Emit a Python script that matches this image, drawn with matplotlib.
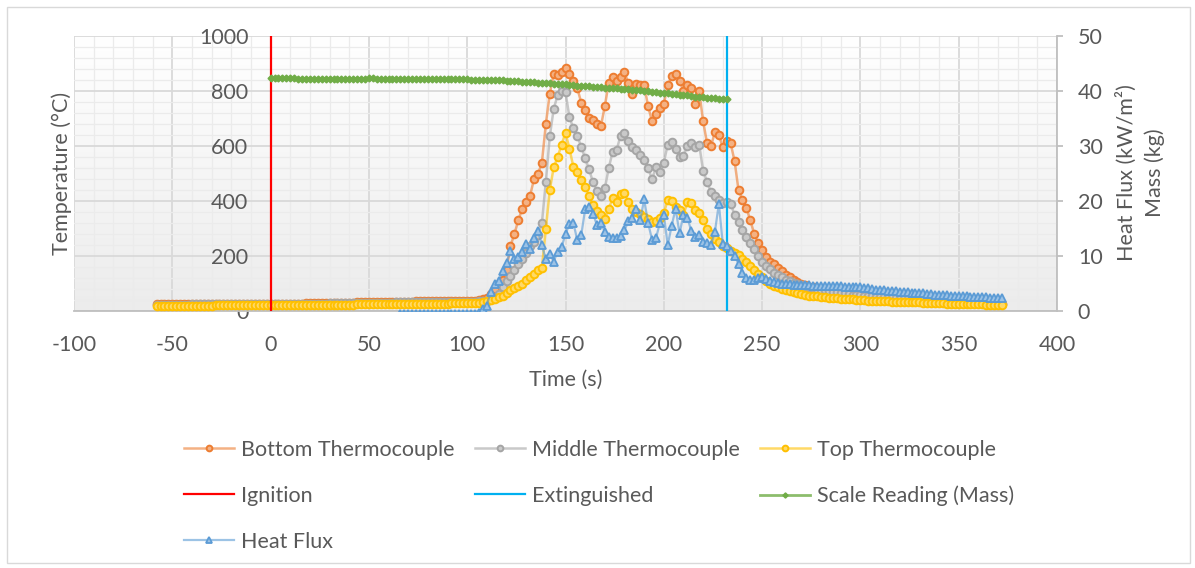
import numpy as np
import matplotlib
matplotlib.use('Agg')
import matplotlib.pyplot as plt
from matplotlib.ticker import MultipleLocator
from matplotlib.patches import Rectangle
from matplotlib.colors import LinearSegmentedColormap, to_rgba

plt.rcParams['font.family'] = ['Lato', 'DejaVu Sans']
plt.rcParams['axes.unicode_minus'] = False

# readings every 2 s
time = np.arange(-58, 374, 2)
time_hf = np.arange(66, 374, 2)
time_mass = np.arange(0, 234, 2)

# temperatures (deg C), rows of 10 readings starting at the time in the comment
bottom_tc = [
    24, 24, 24, 24, 24, 25, 24, 24, 25, 25,            # -58
    25, 25, 25, 25, 25, 25, 25, 25, 25, 25,            # -38
    25, 25, 26, 26, 26, 26, 26, 26, 26, 26,            # -18
    26, 26, 27, 27, 27, 27, 27, 27, 28, 28,            # 2
    28, 28, 28, 29, 29, 29, 29, 30, 30, 30,            # 22
    30, 31, 31, 31, 31, 32, 32, 32, 32, 33,            # 42
    33, 33, 33, 34, 34, 34, 35, 35, 35, 36,            # 62
    36, 36, 37, 37, 37, 37, 38, 38, 38, 38,            # 82
    38, 38, 40, 42, 48, 62, 80, 98, 112, 150,          # 102
    236, 280, 330, 372, 395, 420, 480, 498, 540, 680,  # 122
    790, 862, 858, 868, 882, 862, 835, 810, 758, 730,  # 142
    702, 695, 680, 672, 745, 830, 852, 838, 850, 868,  # 162
    828, 790, 826, 822, 820, 745, 690, 718, 738, 752,  # 182
    820, 855, 860, 838, 800, 822, 810, 752, 800, 690,  # 202
    610, 600, 650, 640, 595, 620, 610, 545, 440, 405,  # 222
    375, 330, 280, 248, 222, 198, 180, 170, 158, 145,  # 242
    132, 122, 112, 104, 98, 93, 89, 86, 83, 80,        # 262
    77, 74, 72, 70, 68, 66, 64, 63, 61, 60,            # 282
    58, 57, 55, 54, 53, 52, 50, 49, 48, 46,            # 302
    45, 44, 43, 42, 42, 41, 40, 39, 38, 37,            # 322
    36, 36, 35, 34, 33, 33, 32, 31, 31, 30,            # 342
    30, 29, 29, 28, 28, 27,                            # 362
]
middle_tc = [
    23, 23, 23, 23, 23, 23, 23, 23, 23, 24,
    24, 24, 24, 24, 24, 24, 24, 24, 24, 24,
    24, 24, 24, 25, 25, 25, 25, 25, 25, 25,
    25, 25, 25, 26, 26, 26, 26, 26, 26, 27,
    27, 27, 27, 27, 28, 28, 28, 28, 28, 28,
    29, 29, 29, 29, 29, 30, 30, 30, 30, 30,
    30, 31, 31, 31, 31, 31, 32, 32, 32, 32,
    32, 32, 33, 33, 33, 33, 33, 33, 34, 34,
    34, 34, 35, 36, 38, 42, 48, 62, 88, 108,
    128, 150, 170, 190, 212, 235, 252, 276, 320, 470,
    635, 735, 785, 800, 795, 705, 664, 635, 598, 555,
    515, 468, 438, 418, 446, 520, 580, 585, 638, 648,
    618, 596, 586, 568, 548, 520, 480, 522, 505, 540,
    605, 615, 590, 560, 565, 600, 610, 595, 605, 510,
    470, 432, 420, 405, 392, 398, 390, 350, 322, 295,
    270, 248, 225, 200, 180, 165, 152, 140, 130, 122,
    114, 108, 102, 98, 94, 90, 86, 83, 80, 77,
    75, 72, 70, 68, 66, 64, 62, 60, 59, 58,
    56, 55, 53, 52, 51, 50, 48, 47, 46, 45,
    44, 43, 42, 41, 40, 39, 38, 38, 37, 36,
    35, 35, 34, 33, 33, 32, 31, 31, 30, 30,
    29, 29, 28, 28, 27, 27,
]
top_tc = [
    20, 20, 20, 20, 20, 20, 20, 20, 20, 20,
    20, 20, 20, 20, 20, 21, 21, 21, 21, 21,
    21, 21, 21, 21, 21, 21, 21, 21, 21, 21,
    21, 22, 22, 22, 22, 22, 22, 22, 22, 22,
    22, 22, 23, 23, 23, 23, 23, 23, 23, 23,
    23, 24, 24, 24, 24, 24, 24, 24, 25, 25,
    25, 25, 25, 25, 26, 26, 26, 26, 26, 26,
    27, 27, 27, 27, 27, 28, 28, 28, 28, 28,
    29, 29, 30, 33, 36, 40, 45, 50, 56, 64,
    76, 84, 92, 100, 112, 125, 136, 148, 158, 300,
    440, 522, 560, 605, 648, 590, 525, 505, 475, 452,
    418, 385, 365, 348, 335, 372, 410, 398, 425, 430,
    395, 370, 360, 352, 343, 335, 325, 328, 340, 355,
    405, 400, 380, 367, 350, 395, 392, 368, 355, 330,
    300, 280, 262, 250, 238, 228, 220, 210, 204, 190,
    178, 163, 148, 136, 122, 110, 100, 92, 86, 80,
    76, 72, 68, 64, 61, 58, 56, 54, 53, 52,
    50, 49, 48, 46, 45, 44, 43, 42, 41, 40,
    39, 38, 37, 37, 36, 35, 35, 34, 34, 33,
    33, 32, 32, 31, 31, 30, 30, 29, 29, 28,
    28, 27, 27, 27, 26, 26, 25, 25, 25, 24,
    24, 23, 23, 22, 22, 21,
]
# heat flux (kW/m2), logged from 66 s
heat_flux = [
    -0.5, -0.5, -0.5, -0.5, -0.5, -0.5, -0.5, -0.5,              # 66
    -0.5, -0.5, -0.5, -0.5, -0.5, -0.5, -0.5, -0.5, -0.5, -0.5,  # 82
    -0.5, -0.5, -0.3, 0.3, 1.0, 3.5, 5.0, 5.5, 7.2, 8.8,         # 102
    11.0, 9.5, 9.8, 10.8, 12.2, 11.2, 13.2, 14.5, 12.0, 9.4,     # 122
    10.4, 9.0, 10.8, 11.6, 14.0, 15.8, 16.0, 12.9, 13.8, 18.5,
    19.0, 17.7, 15.6, 16.0, 14.4, 13.5, 13.3, 13.2, 13.6, 14.7,
    16.3, 17.0, 18.6, 16.5, 20.3, 16.0, 13.0, 13.2, 16.0, 17.5,
    12.0, 15.5, 18.6, 14.1, 17.5, 17.0, 14.5, 13.5, 13.8, 12.6,
    12.4, 12.0, 14.4, 19.5, 12.2, 11.9, 11.0, 10.0, 8.6, 7.0,
    6.0, 5.6, 5.7, 6.0, 6.2, 5.8, 5.5, 5.3, 5.1, 5.0,
    4.9, 4.9, 4.8, 4.8, 4.7, 4.7, 4.7, 4.6, 4.6, 4.6,
    4.5, 4.5, 4.5, 4.5, 4.5, 4.4, 4.4, 4.4, 4.3, 4.3,
    4.2, 4.1, 4.0, 3.9, 3.9, 3.8, 3.7, 3.6, 3.6, 3.5,
    3.4, 3.4, 3.3, 3.3, 3.2, 3.2, 3.1, 3.1, 3.0, 3.0,
    2.9, 2.9, 2.8, 2.8, 2.8, 2.7, 2.7, 2.6, 2.6, 2.6,
    2.5, 2.5, 2.4, 2.4, 2.3, 2.3,
]
# scale reading (kg), from ignition to extinguish
mass = [
    42.3, 42.3, 42.3, 42.3, 42.3, 42.3, 42.3, 42.2, 42.2, 42.2,
    42.2, 42.2, 42.2, 42.2, 42.2, 42.2, 42.2, 42.2, 42.2, 42.2,
    42.2, 42.2, 42.2, 42.2, 42.2, 42.3, 42.3, 42.2, 42.2, 42.2,
    42.2, 42.2, 42.2, 42.2, 42.2, 42.2, 42.1, 42.1, 42.1, 42.1,
    42.1, 42.1, 42.1, 42.1, 42.1, 42.1, 42.1, 42.1, 42.1, 42.1,
    42.1, 42.0, 42.0, 42.0, 42.0, 42.0, 42.0, 42.0, 42.0, 42.0,
    41.9, 41.9, 41.8, 41.8, 41.7, 41.7, 41.6, 41.6, 41.5, 41.5,
    41.4, 41.4, 41.3, 41.3, 41.2, 41.2, 41.1, 41.1, 41.0, 41.0,
    40.9, 40.9, 40.8, 40.8, 40.7, 40.6, 40.6, 40.5, 40.5, 40.4,
    40.4, 40.3, 40.2, 40.2, 40.1, 40.0, 40.0, 39.9, 39.8, 39.7,
    39.6, 39.6, 39.5, 39.4, 39.3, 39.3, 39.2, 39.1, 39.0, 38.9,
    38.9, 38.8, 38.7, 38.7, 38.6, 38.6, 38.5,
]
ignition_t = 0
extinguished_t = 232

assert len(bottom_tc) == len(middle_tc) == len(top_tc) == len(time)
assert len(heat_flux) == len(time_hf)
assert len(mass) == len(time_mass)

TXT = '#595959'
GRID = '#D9D9D9'
AXLINE = '#BFBFBF'
FS = 15.5


def line_rgba(c, a=0.6):
    return to_rgba(c, a)


fig = plt.figure(figsize=(11.95, 5.68), dpi=100)
fig.patches.append(Rectangle((7 / 1195, 5 / 568), 1183 / 1195, 556 / 568, transform=fig.transFigure,
                             fill=False, edgecolor=GRID, lw=1.0))

ax = fig.add_axes([74 / 1195, 1 - 311 / 568, 983 / 1195, 275 / 568])
ax2 = ax.twinx()

# plot area gradient
bg = LinearSegmentedColormap.from_list('bg', ['#FFFFFF', '#ECECEC'])
ax.imshow(np.linspace(0, 1, 256).reshape(-1, 1), cmap=bg, extent=[0, 1, 0, 1],
          transform=ax.transAxes, aspect='auto', zorder=-10)

tc_series = [
    (bottom_tc, 'Bottom Thermocouple', '#ED7D31', '#F4B183'),
    (middle_tc, 'Middle Thermocouple', '#A5A5A5', '#C9C9C9'),
    (top_tc, 'Top Thermocouple', '#FFC000', '#FFD966'),
]
h = {}
for vals, lab, c, face in tc_series:
    h[lab], = ax.plot(time, vals, color=line_rgba(c), lw=1.8, marker='o', ms=5.5,
                      mec=c, mfc=face, mew=1.4, label=lab, zorder=3)

h['Ignition'] = ax.axvline(ignition_t, color='#FF0000', lw=1.6, zorder=6, label='Ignition')
h['Extinguished'] = ax.axvline(extinguished_t, color='#00B0F0', lw=1.6, zorder=6, label='Extinguished')

h['Scale Reading (Mass)'], = ax2.plot(time_mass, mass, color=line_rgba('#70AD47', 0.8), lw=2.0,
                                      marker='D', ms=3.5, mec='#70AD47', mfc='#70AD47', mew=1.0,
                                      label='Scale Reading (Mass)', zorder=3)
h['Heat Flux'], = ax2.plot(time_hf, heat_flux, color=line_rgba('#5B9BD5'), lw=1.6, marker='^', ms=5.5,
                           mec='#5B9BD5', mfc='#9DC3E6', mew=1.3, label='Heat Flux', zorder=3)

# axes
ax.set_xlim(-100, 400)
ax.set_ylim(0, 1000)
ax2.set_ylim(0, 50)
ax.xaxis.set_major_locator(MultipleLocator(50))
ax.xaxis.set_minor_locator(MultipleLocator(10))
ax.yaxis.set_major_locator(MultipleLocator(200))
ax.yaxis.set_minor_locator(MultipleLocator(40))
ax2.yaxis.set_major_locator(MultipleLocator(10))

ax.grid(which='major', color=GRID, lw=1.3, zorder=0)
ax.grid(which='minor', color='#EBEBEB', lw=0.9, zorder=0)
ax.set_axisbelow(True)

ax.spines['left'].set_position(('data', 0))
ax.spines['left'].set_color('none')
ax.spines['top'].set_visible(False)
ax.spines['right'].set_visible(False)
ax.spines['bottom'].set_color(AXLINE)
ax.spines['bottom'].set_linewidth(1.3)
for s in ['left', 'top', 'bottom']:
    ax2.spines[s].set_visible(False)
ax2.spines['right'].set_color(AXLINE)
ax2.spines['right'].set_linewidth(1.3)

ax.tick_params(axis='both', which='both', length=0, labelsize=FS, labelcolor=TXT)
ax.tick_params(axis='x', pad=17)
ax.tick_params(axis='y', pad=16)
ax2.tick_params(axis='y', which='major', length=4, width=1.3, color=AXLINE, direction='out',
                labelsize=FS, labelcolor=TXT, pad=11)

ax.set_xlabel('Time (s)', fontsize=FS, color=TXT)
ax.xaxis.set_label_coords(0.5, -0.251)
ax.xaxis.label.set_va('center')
ax.set_ylabel('Temperature (°C)', fontsize=FS, color=TXT)
ax.yaxis.set_label_coords(-0.0122, 0.502)
ax.yaxis.label.set_va('center')
ax2.set_ylabel('Heat Flux (kW/m²)\nMass (kg)', fontsize=FS, color=TXT, linespacing=1.45)
ax2.yaxis.set_label_coords(1.0844, 0.502)
ax2.yaxis.label.set_va('center')

order = ['Bottom Thermocouple', 'Ignition', 'Heat Flux', 'Middle Thermocouple', 'Extinguished',
         'Top Thermocouple', 'Scale Reading (Mass)']
fig.legend([h[k] for k in order], order, ncol=3, loc='upper left',
           bbox_to_anchor=(184 / 1195, 1 - 440 / 568), frameon=False, fontsize=FS,
           labelcolor=TXT, handlelength=2.3, handletextpad=0.35, columnspacing=0.95,
           labelspacing=1.2, borderpad=0, borderaxespad=0, markerscale=0.75)

fig.savefig('out.png', dpi=100)
